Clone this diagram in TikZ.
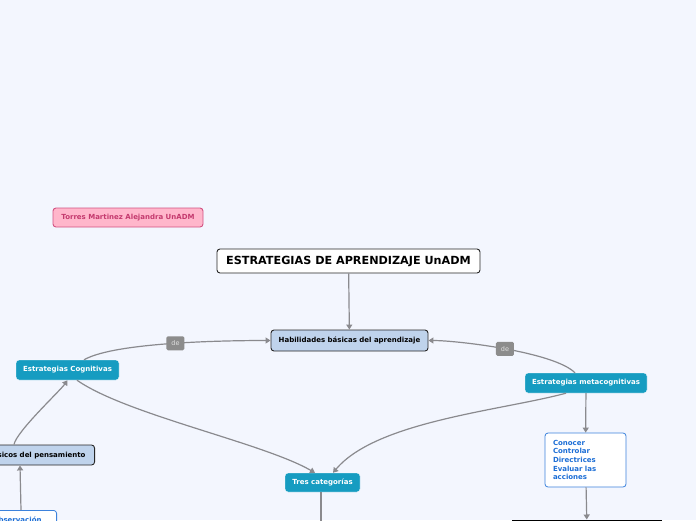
\documentclass[tikz,border=0pt]{standalone}
\usepackage{fontspec}
\setmainfont{DejaVu Sans}
\usetikzlibrary{arrows.meta,positioning}

\definecolor{paper}{RGB}{243,246,254}
\definecolor{teal}{RGB}{22,156,193}
\definecolor{sky}{RGB}{191,211,236}
\definecolor{pinkfill}{RGB}{255,182,203}
\definecolor{pinkline}{RGB}{210,82,130}
\definecolor{pinktext}{RGB}{196,58,110}
\definecolor{listline}{RGB}{60,130,220}
\definecolor{listtext}{RGB}{28,110,214}
\definecolor{taggray}{RGB}{140,140,140}
\definecolor{linkgray}{RGB}{138,138,142}

\begin{document}
\begin{tikzpicture}[
  every node/.style={font=\bfseries\fontsize{7}{8.6}\selectfont},
  topic/.style={draw=black!85,rounded corners=3pt,line width=0.9pt,inner sep=0pt,minimum height=20pt},
  main/.style={topic,fill=sky},
  branch/.style={draw=white,rounded corners=3pt,fill=teal,text=white,inner sep=0pt,minimum height=20pt},
  list/.style={draw=listline,line width=0.8pt,rounded corners=3pt,fill=white,text=listtext,align=left,inner xsep=8pt,inner ysep=6pt},
  tag/.style={fill=taggray,text=black!12,rounded corners=1.5pt,minimum width=18pt,minimum height=14pt,inner sep=0pt,font=\fontsize{6.5}{7}\selectfont},
  link/.style={draw=linkgray,line width=1.2pt,-{Triangle[width=6pt,length=5pt]}}
]
  \useasboundingbox (0,0) rectangle (696pt,-520pt);
  \clip (0,0) rectangle (696pt,-520pt);
  \fill[paper] (0,0) rectangle (696pt,-520pt);

  % nodes
  \node[topic,fill=pinkfill,draw=pinkline,text=pinktext,minimum width=150pt,minimum height=19pt] (author) at (128pt,-217.5pt) {Torres Martinez Alejandra UnADM};
  \node[topic,fill=white,minimum width=263pt,minimum height=24pt,font=\bfseries\fontsize{11.2}{13}\selectfont] (title) at (348.5pt,-261pt) {ESTRATEGIAS DE APRENDIZAJE UnADM};
  \node[main,minimum width=157pt,minimum height=21pt] (skills) at (349.5pt,-340.5pt) {Habilidades básicas del aprendizaje};
  \node[branch,minimum width=103pt] (cog) at (67.5pt,-370pt) {Estrategias Cognitivas};
  \node[branch,minimum width=122pt] (meta) at (586pt,-383pt) {Estrategias metacognitivas};
  \node[main,anchor=east,inner xsep=9pt] (basic) at (95pt,-455pt) {Procesos básicos del pensamiento};
  \node[list,anchor=north east,text width=56pt] (observ) at (57pt,-510pt) {Observación};
  \node[list,text width=65pt,minimum height=54pt] (control) at (585.5pt,-460pt) {Conocer\\Controlar\\Directrices\\Evaluar las\\acciones};
  \node[branch,minimum width=75pt,minimum height=19pt] (three) at (322.5pt,-482.5pt) {Tres categorías};
  \node[draw=black,fill=white,line width=1.5pt,anchor=north,minimum width=148pt,minimum height=20pt] (next) at (587pt,-519.5pt) {};
  \coordinate (threeend) at (321pt,-545pt);

  % connectors
  \draw[link] (title) -- (skills);
  \draw[link] ([xshift=16.5pt]cog.north) to[out=30,in=180,looseness=0.5] node[tag] {de} (skills.west);
  \draw[link] ([xshift=-11pt]meta.north) to[out=135,in=0,looseness=0.5] node[tag] {de} (skills.east);
  \draw[link] ([xshift=9.5pt]cog.south) to[out=-35,in=150,looseness=0.6] ([xshift=-7.5pt]three.north);
  \draw[link] ([xshift=-20pt]meta.south) to[out=195,in=50,looseness=0.7] ([xshift=10.5pt]three.north);
  \draw[link] ([xshift=-81pt]basic.north east) to[out=80,in=-125,looseness=0.4] (cog.south);
  \draw[link] ([xshift=-36pt]observ.north east) -- ([xshift=-75pt]basic.south east);
  \draw[link] (meta) -- (control);
  \draw[link] (control) -- (next);
  \draw[link] ([xshift=-1.5pt]three.south) -- (threeend);
\end{tikzpicture}
\end{document}
